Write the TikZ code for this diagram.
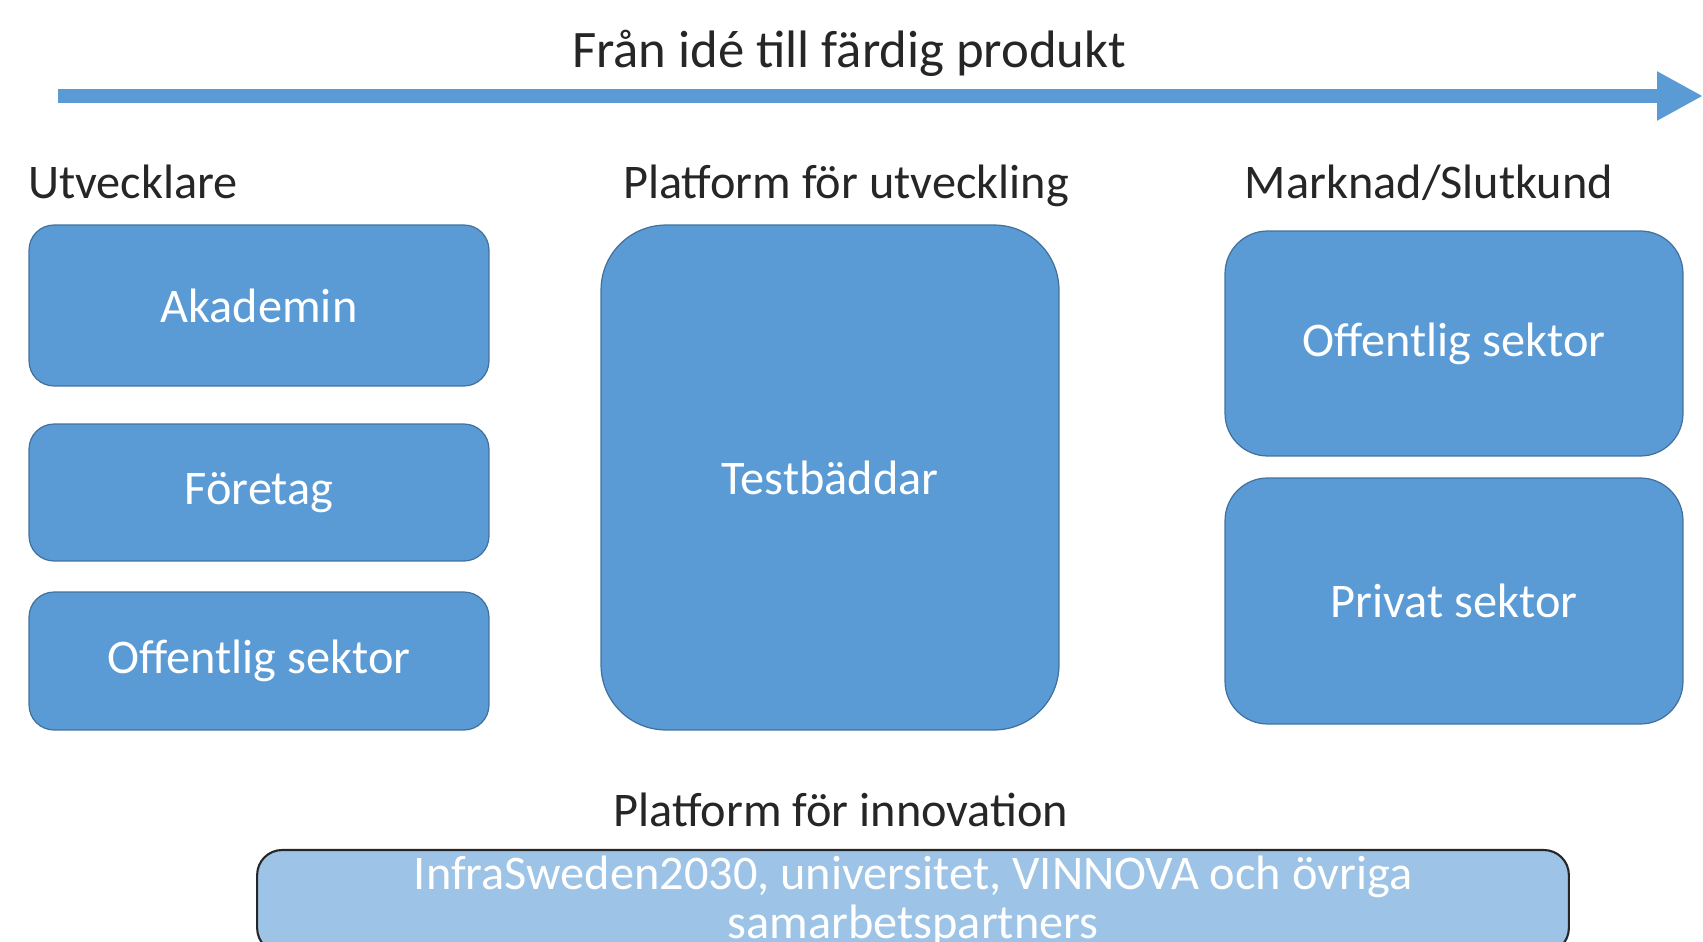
\documentclass[tikz,border=0pt]{standalone}
\usepackage{fontspec}
\setmainfont{Carlito}
\usepackage{tikz}
\usetikzlibrary{arrows.meta}
\usepackage{xcolor}

\definecolor{boxblue}{HTML}{5B9BD5}
\definecolor{boxedge}{HTML}{41719C}
\definecolor{paleblue}{HTML}{9DC3E6}

\tikzset{
  bluebox/.style={draw=boxedge, line width=0.7pt, rectangle, rounded corners=0.5cm, fill=boxblue,
    text=white, font=\fontsize{27.5}{30}\selectfont},
  heading/.style={font=\fontsize{27.5}{30}\selectfont, text=black!85, anchor=base},
}

\begin{document}
\begin{tikzpicture}[x=0.02cm, y=-0.02cm]
    \useasboundingbox (0,0) rectangle (1703,942);
    \clip (0,0) rectangle (1703,942);

    \node[heading, font=\fontsize{30}{32}\selectfont] (title) at (849,68) {Från idé till färdig produkt};
    \coordinate (flowstart) at (58,96);
    \coordinate (flowend) at (1703,96);
    \draw[boxblue, line width=0.28cm, -{Triangle[length=0.92cm, width=0.92cm]}] (flowstart) -- (flowend);

    \node[heading, anchor=base west] (devs) at (22,199) {Utvecklare};
    \node[heading] (platdev) at (846,199) {Platform för utveckling};
    \node[heading] (market) at (1429,199) {Marknad/Slutkund};

    \node[bluebox, minimum width=9.2cm, minimum height=3.22cm] (akademin) at (259,305.5) {Akademin};
    \node[bluebox, minimum width=9.2cm, minimum height=2.74cm] (foretag) at (259,492.5) {Företag};
    \node[bluebox, minimum width=9.2cm, minimum height=2.76cm] (offdev) at (259,661) {Offentlig sektor};

    \node[bluebox, rounded corners=1.3cm, minimum width=9.16cm, minimum height=10.1cm] (testbed) at (830,477.5) {Testbäddar};

    \node[bluebox, rounded corners=0.85cm, minimum width=9.16cm, minimum height=4.5cm] (offmarket) at (1454,343.5) {Offentlig sektor};
    \node[bluebox, rounded corners=0.85cm, minimum width=9.16cm, minimum height=4.92cm] (privat) at (1454,601) {Privat sektor};

    \node[heading] (platinno) at (841,826) {Platform för innovation};
    \node[draw=black!85, line width=1.2pt, rectangle, rounded corners=0.5cm, fill=paleblue, text=white,
      font=\fontsize{27.5}{28}\selectfont, align=center, minimum width=26.24cm, minimum height=2.06cm] (partners) at (913,901.5)
      {InfraSweden2030, universitet, VINNOVA och övriga\\samarbetspartners};
\end{tikzpicture}
\end{document}
